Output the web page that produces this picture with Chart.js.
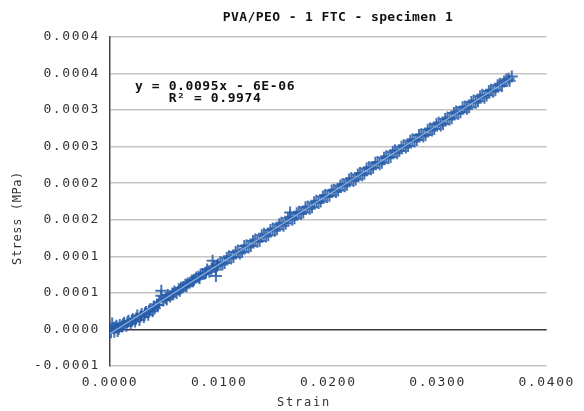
<!DOCTYPE html>
<html lang="en">

<head>
  <meta charset="UTF-8">
  <title>PVA/PEO - 1 FTC - specimen 1</title>
  <style>
    html, body { margin: 0; padding: 0; background: #fff; }
    .card { width: 584px; height: 411px; }
  </style>
</head>

<body>
  <div class="card">
    <canvas id="StressChart"></canvas>
  </div>
</body>

</html>
<script src="https://cdn.jsdelivr.net/npm/chart.js"></script>
<script>
  // textos
  const chartTitle = 'PVA/PEO - 1 FTC - specimen 1';
  const xTitle = 'Strain';
  const yTitle = 'Stress (MPa)';
  const trendLabel1 = 'y = 0.0095x - 6E-06';
  const trendLabel2 = 'R² = 0.9974';

  // ticks
  const xTickLabels = ['0.0000', '0.0100', '0.0200', '0.0300', '0.0400'];
  const yTickLabels = ['-0.0001', '0.0000', '0.0001', '0.0001', '0.0002', '0.0002', '0.0003', '0.0003', '0.0004', '0.0004'];

  const strain = [
    0.0000, 0.0001, 0.0002, 0.0003, 0.0005, 0.0007, 0.0009, 0.0011, 0.0013, 0.0015,
    0.0017, 0.0019, 0.0021, 0.0023, 0.0025, 0.0027, 0.0029, 0.0031, 0.0033, 0.0035,
    0.0037, 0.0039, 0.0041, 0.0043, 0.0045, 0.0047, 0.0049, 0.0051, 0.0053, 0.0055,
    0.0057, 0.0059, 0.0061, 0.0063, 0.0065, 0.0067, 0.0069, 0.0071, 0.0073, 0.0075,
    0.0077, 0.0079, 0.0081, 0.0083, 0.0085, 0.0087, 0.0089, 0.0091, 0.0093, 0.0095,
    0.0097, 0.0099, 0.0101, 0.0105, 0.0109, 0.0113, 0.0117, 0.0121, 0.0125, 0.0129,
    0.0133, 0.0137, 0.0141, 0.0145, 0.0149, 0.0153, 0.0157, 0.0161, 0.0165, 0.0169,
    0.0173, 0.0177, 0.0181, 0.0185, 0.0189, 0.0193, 0.0197, 0.0201, 0.0205, 0.0209,
    0.0213, 0.0217, 0.0221, 0.0225, 0.0229, 0.0233, 0.0237, 0.0241, 0.0245, 0.0249,
    0.0253, 0.0257, 0.0261, 0.0265, 0.0269, 0.0273, 0.0277, 0.0281, 0.0285, 0.0289,
    0.0293, 0.0297, 0.0301, 0.0305, 0.0309, 0.0313, 0.0317, 0.0321, 0.0325, 0.0329,
    0.0333, 0.0337, 0.0341, 0.0345, 0.0349, 0.0353, 0.0357, 0.0361, 0.0365, 0.0368
  ];
  const stress = [
    0.000001, -0.000004, 0.000008, 0.000002, 0.000003, -0.000002, 0.000006, 0.000004, 0.000009, 0.000005,
    0.000012, 0.000008, 0.000014, 0.000011, 0.000019, 0.000013, 0.000021, 0.000017, 0.000024, 0.000020,
    0.000028, 0.000025, 0.000029, 0.000034, 0.000038, 0.000046, 0.000040, 0.000043, 0.000047, 0.000045,
    0.000049, 0.000052, 0.000050, 0.000055, 0.000057, 0.000058, 0.000061, 0.000063, 0.000064, 0.000067,
    0.000068, 0.000071, 0.000072, 0.000075, 0.000076, 0.000077, 0.000082, 0.000079, 0.000083, 0.000086,
    0.000082, 0.000089, 0.000092, 0.000091, 0.000100, 0.000099, 0.000108, 0.000106, 0.000115, 0.000114,
    0.000123, 0.000121, 0.000131, 0.000129, 0.000138, 0.000137, 0.000146, 0.000145, 0.000154, 0.000152,
    0.000161, 0.000160, 0.000168, 0.000167, 0.000176, 0.000175, 0.000184, 0.000183, 0.000191, 0.000190,
    0.000199, 0.000198, 0.000207, 0.000205, 0.000214, 0.000213, 0.000222, 0.000221, 0.000229, 0.000228,
    0.000237, 0.000236, 0.000245, 0.000244, 0.000252, 0.000251, 0.000260, 0.000259, 0.000267, 0.000266,
    0.000275, 0.000274, 0.000283, 0.000281, 0.000290, 0.000289, 0.000298, 0.000297, 0.000305, 0.000304,
    0.000313, 0.000312, 0.000321, 0.000320, 0.000328, 0.000327, 0.000336, 0.000339, 0.000343, 0.000346
  ];

  // pontos intermediários e alguns pontos fora da faixa
  const strain2 = [
    0.0004, 0.0006, 0.0008, 0.0012, 0.0016, 0.0020, 0.0024, 0.0028, 0.0032, 0.0036,
    0.0040, 0.0044, 0.0047, 0.0052, 0.0058, 0.0064, 0.0070, 0.0076, 0.0082, 0.0088,
    0.0094, 0.0097, 0.0098,
    0.0103, 0.0107, 0.0111, 0.0115, 0.0119, 0.0123, 0.0127, 0.0131, 0.0135, 0.0139,
    0.0143, 0.0147, 0.0151, 0.0155, 0.0159, 0.0163, 0.0165, 0.0167, 0.0171, 0.0175,
    0.0179, 0.0183, 0.0187, 0.0191, 0.0195, 0.0199, 0.0203, 0.0207, 0.0211, 0.0215,
    0.0219, 0.0223, 0.0227, 0.0231, 0.0235, 0.0239, 0.0243, 0.0247, 0.0251, 0.0255,
    0.0259, 0.0263, 0.0267, 0.0271, 0.0275, 0.0279, 0.0283, 0.0287, 0.0291, 0.0295,
    0.0299, 0.0303, 0.0307, 0.0311, 0.0315, 0.0319, 0.0323, 0.0327, 0.0331, 0.0335,
    0.0339, 0.0343, 0.0347, 0.0351, 0.0355, 0.0359, 0.0363, 0.0366
  ];
  const stress2 = [
    -0.000003, 0.000005, 0.000001, 0.000007, 0.000010, 0.000012, 0.000015, 0.000018, 0.000022, 0.000026,
    0.000031, 0.000033, 0.000053, 0.000041, 0.000048, 0.000053, 0.000059, 0.000066, 0.000070, 0.000078,
    0.000094, 0.000073, 0.000087,
    0.000089, 0.000098, 0.000097, 0.000106, 0.000104, 0.000114, 0.000112, 0.000121, 0.000120, 0.000129,
    0.000127, 0.000136, 0.000135, 0.000144, 0.000142, 0.000152, 0.000160, 0.000150, 0.000159, 0.000158,
    0.000167, 0.000165, 0.000174, 0.000173, 0.000182, 0.000181, 0.000190, 0.000188, 0.000197, 0.000196,
    0.000205, 0.000203, 0.000212, 0.000211, 0.000220, 0.000219, 0.000228, 0.000226, 0.000235, 0.000234,
    0.000243, 0.000241, 0.000250, 0.000249, 0.000258, 0.000257, 0.000266, 0.000264, 0.000273, 0.000272,
    0.000281, 0.000279, 0.000288, 0.000287, 0.000296, 0.000295, 0.000304, 0.000302, 0.000311, 0.000310,
    0.000319, 0.000317, 0.000326, 0.000325, 0.000334, 0.000333, 0.000342, 0.000340
  ];

  // linha de tendência (dois extremos)
  const trendStrain = [0.0000, 0.0368];
  const trendStress = [-0.000006, 0.000344];

  const pontos = strain.map((x, i) => ({ x: x, y: stress[i] }))
    .concat(strain2.map((x, i) => ({ x: x, y: stress2[i] })));
  const tendencia = trendStrain.map((x, i) => ({ x: x, y: trendStress[i] }));

  // espaçamento das letras + textos extras
  const textoPlugin = {
    id: 'textoPlugin',
    beforeLayout(chart) { chart.ctx.letterSpacing = '1.6px'; },
    beforeDraw(chart) { chart.ctx.letterSpacing = '1.6px'; },
    afterDraw(chart) {
      const ctx = chart.ctx;
      ctx.save();
      ctx.fillStyle = '#111';
      ctx.textAlign = 'center';
      ctx.textBaseline = 'middle';

      ctx.letterSpacing = '0.4px';
      ctx.font = 'bold 13px "DejaVu Sans Mono"';
      ctx.fillText(chartTitle, 338, 18);

      ctx.letterSpacing = '0.6px';
      ctx.fillText(trendLabel1, 215, 87);
      ctx.fillText(trendLabel2, 215, 99);

      ctx.fillStyle = '#333';
      ctx.font = '12px "DejaVu Sans Mono"';
      ctx.letterSpacing = '1.8px';
      ctx.fillText(xTitle, 304, 403);

      ctx.translate(18, 218);
      ctx.rotate(-Math.PI / 2);
      ctx.letterSpacing = '0.6px';
      ctx.fillText(yTitle, 0, 0);
      ctx.restore();
    }
  };

  const ctxGrafico = document.getElementById('StressChart').getContext('2d');
  new Chart(ctxGrafico, {
    type: 'scatter',
    data: {
      datasets: [{
        label: 'Stress',
        data: pontos,
        pointStyle: 'cross',
        pointRadius: 6,
        pointBorderWidth: 2,
        borderColor: 'rgba(38, 92, 168, 0.85)',
        backgroundColor: 'rgba(38, 92, 168, 0.85)',
        order: 2
      }, {
        type: 'line',
        label: 'Tendência',
        data: tendencia,
        borderColor: 'rgba(150, 185, 230, 0.9)',
        borderWidth: 1.2,
        pointRadius: 0,
        fill: false,
        order: 1
      }]
    },
    options: {
      responsive: true,
      maintainAspectRatio: false,
      animation: false,
      layout: {
        padding: { left: 0, right: 31, top: 37, bottom: 0 }
      },
      plugins: {
        legend: { display: false },
        title: { display: false },
        tooltip: { enabled: false }
      },
      scales: {
        x: {
          type: 'linear',
          min: 0,
          max: 0.04,
          afterFit(scale) { scale.height = 45; },
          grid: { display: false, drawTicks: false },
          border: { display: false },
          ticks: {
            stepSize: 0.01,
            padding: 9,
            color: '#333',
            font: { family: 'DejaVu Sans Mono', size: 13 },
            maxRotation: 0,
            callback: (v, i) => xTickLabels[i]
          }
        },
        y: {
          type: 'linear',
          min: -0.00005,
          max: 0.0004,
          afterFit(scale) { scale.width = 110; },
          grid: {
            drawTicks: false,
            lineWidth: 1.5,
            color: (c) => (c.tick && Math.abs(c.tick.value) < 1e-9) ? '#3a3a3a' : '#c4c4c4'
          },
          border: { display: true, color: '#444', width: 1.5 },
          ticks: {
            stepSize: 0.00005,
            padding: 10,
            color: '#333',
            font: { family: 'DejaVu Sans Mono', size: 13 },
            callback: (v, i) => yTickLabels[i]
          }
        }
      }
    },
    plugins: [textoPlugin]
  });
</script>
